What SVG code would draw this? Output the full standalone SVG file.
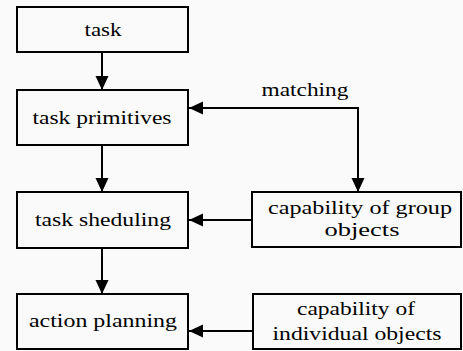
<svg xmlns="http://www.w3.org/2000/svg" width="463" height="351" viewBox="0 0 463 351">
<style>
.box{fill:none;stroke:#000;stroke-width:2}
.lbl{font-family:"Liberation Serif","DejaVu Serif",serif;font-size:18.5px;fill:#000;text-anchor:middle}
.con{fill:none;stroke:#000;stroke-width:2}
</style>
<defs>
<marker id="ah" markerUnits="userSpaceOnUse" markerWidth="15" markerHeight="14" refX="14" refY="6.5" orient="auto">
<path d="M0,0 L14,6.5 L0,13 z" fill="#000"/>
</marker>
</defs>
<rect width="463" height="351" fill="#fafafa"/>
<g id="task"><rect class="box" x="17" y="7" width="171" height="45"/><text class="lbl" x="103" y="36" textLength="37" lengthAdjust="spacingAndGlyphs">task</text></g>
<g id="task-primitives"><rect class="box" x="17" y="90" width="171" height="55"/><text class="lbl" x="102" y="124" textLength="139" lengthAdjust="spacingAndGlyphs">task primitives</text></g>
<g id="task-sheduling"><rect class="box" x="17" y="192" width="171" height="56"/><text class="lbl" x="103" y="226" textLength="136" lengthAdjust="spacingAndGlyphs">task sheduling</text></g>
<g id="action-planning"><rect class="box" x="17" y="294" width="171" height="55"/><text class="lbl" x="103" y="327" textLength="148" lengthAdjust="spacingAndGlyphs">action planning</text></g>
<g id="group-objects"><rect class="box" x="252" y="192" width="209" height="55"/><text class="lbl" x="360" y="214" textLength="184" lengthAdjust="spacingAndGlyphs">capability of group</text><text class="lbl" x="362" y="236" textLength="75" lengthAdjust="spacingAndGlyphs">objects</text></g>
<g id="individual-objects"><rect class="box" x="253" y="294" width="208" height="55"/><text class="lbl" x="356" y="315" textLength="118" lengthAdjust="spacingAndGlyphs">capability of</text><text class="lbl" x="357" y="340" textLength="169" lengthAdjust="spacingAndGlyphs">individual objects</text></g>
<g id="connectors">
<line class="con" x1="102" y1="52" x2="102" y2="90" marker-end="url(#ah)"/>
<line class="con" x1="102" y1="145" x2="102" y2="192" marker-end="url(#ah)"/>
<line class="con" x1="102" y1="248" x2="102" y2="294" marker-end="url(#ah)"/>
<path class="con" d="M358,108 L189,108" marker-end="url(#ah)"/>
<path class="con" d="M258,108 L358,108 L358,192" marker-end="url(#ah)"/>
<line class="con" x1="252" y1="220" x2="189" y2="220" marker-end="url(#ah)"/>
<line class="con" x1="253" y1="331" x2="189" y2="331" marker-end="url(#ah)"/>
<text class="lbl" x="305" y="96" textLength="87" lengthAdjust="spacingAndGlyphs">matching</text>
</g>
</svg>
